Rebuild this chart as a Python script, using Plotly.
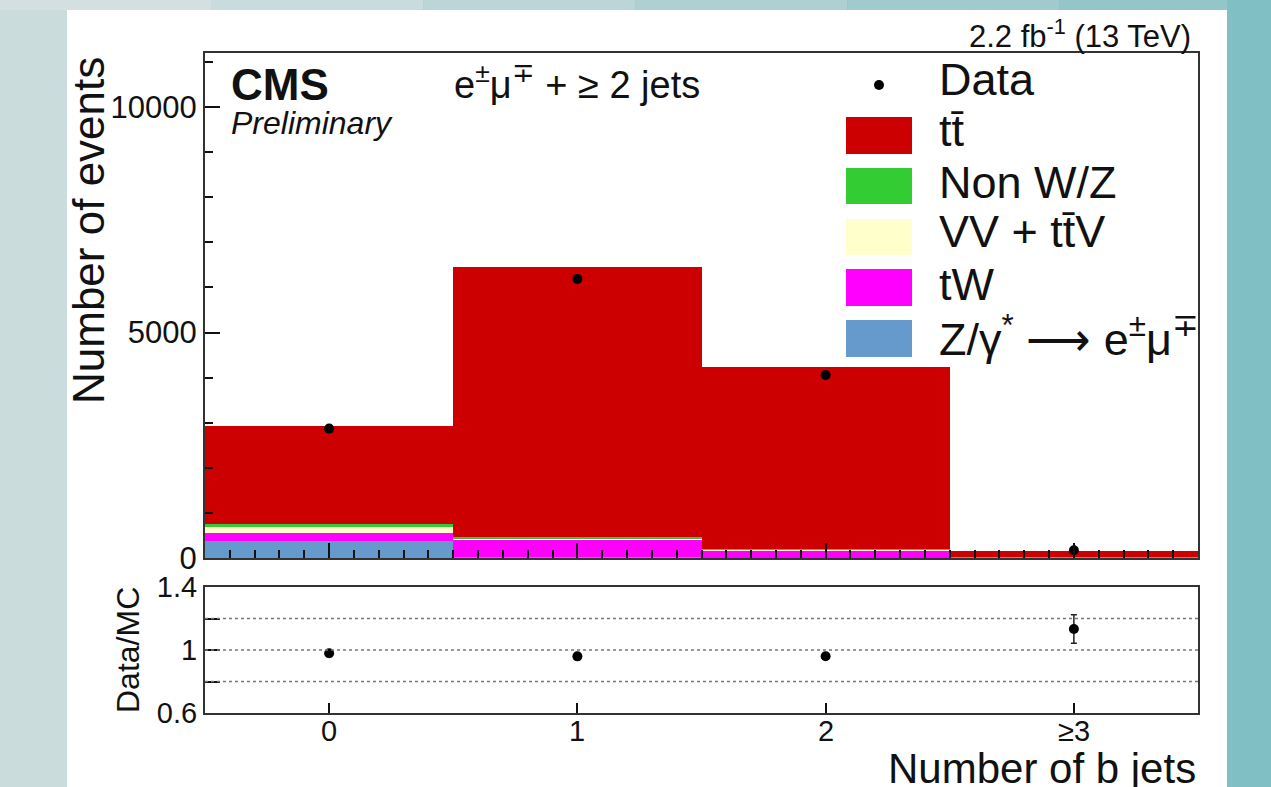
import plotly.graph_objects as go

# ---- event yields per b-jet multiplicity bin (stacked, bottom to top) ----
bins = [0, 1, 2, 3]
bin_labels = ["0", "1", "2", "≥3"]
z_dy = [380, 15, 5, 3]          # Z/gamma* -> e mu
tw = [180, 400, 160, 15]        # tW
vv_ttv = [130, 20, 15, 4]       # VV + ttV
non_wz = [55, 25, 10, 3]        # Non W/Z
ttbar = [2185, 5990, 4040, 125]  # ttbar
data = [2870, 6190, 4060, 170]
data_err = [54, 79, 64, 13]
ratio_err = [0.02, 0.016, 0.018, 0.09]

names = ["Z/γ<sup>*</sup> ⟶ e<sup>±</sup>μ<sup>∓</sup>", "tW", "VV + tt̄V", "Non W/Z", "tt̄"]
colors = ["#6699cc", "#ff00ff", "#ffffcc", "#33cc33", "#cc0000"]
stack = [z_dy, tw, vv_ttv, non_wz, ttbar]

mc_total = [sum(s[i] for s in stack) for i in range(len(bins))]
ratio = [d / m for d, m in zip(data, mc_total)]

W, H = 1271, 787
FONT = "Liberation Sans, Arial, Helvetica, sans-serif"


def px(x):
    return x / W


def py(y):
    return 1 - y / H


fig = go.Figure()

for vals, name, col in zip(stack, names, colors):
    fig.add_trace(go.Bar(
        x=bins, y=vals, name=name, width=1.0,
        marker=dict(color=col, line=dict(width=0)),
        xaxis="x", yaxis="y", showlegend=False,
    ))

fig.add_trace(go.Scatter(
    x=bins, y=data, mode="markers", name="Data",
    marker=dict(color="black", size=10),
    error_y=dict(type="data", array=data_err, color="black", thickness=1.5, width=0),
    xaxis="x", yaxis="y", showlegend=False,
))

fig.add_trace(go.Scatter(
    x=bins, y=ratio, mode="markers", name="Data/MC",
    marker=dict(color="black", size=10),
    error_y=dict(type="data", array=ratio_err, color="#222", thickness=1.5, width=3),
    xaxis="x2", yaxis="y2", showlegend=False,
))

xdom = [px(205), px(1198)]
axis_line = dict(showline=True, linecolor="#333", linewidth=2, mirror=True,
                 showgrid=False, zeroline=False, automargin=False)

fig.update_layout(
    width=W, height=H,
    margin=dict(l=0, r=0, t=0, b=0, autoexpand=False),
    paper_bgcolor="#8cc4c8",
    plot_bgcolor="white",
    barmode="stack", bargap=0,
    font=dict(family=FONT, color="#111"),
    xaxis=dict(
        domain=xdom, range=[-0.5, 3.5], anchor="y",
        tickvals=bins, showticklabels=False,
        ticks="inside", ticklen=15, tickwidth=1.5, tickcolor="#111",
        minor=dict(ticks="inside", ticklen=8, tickwidth=1.5, tickcolor="#111",
                   tick0=0, dtick=0.1),
        **axis_line,
    ),
    yaxis=dict(
        domain=[py(558), py(53)], range=[0, 11200], anchor="x",
        tickvals=[0, 5000, 10000], ticktext=["0", "5000", "10000"],
        ticks="inside", ticklen=15, tickwidth=1.5, tickcolor="#111",
        minor=dict(ticks="inside", ticklen=8, tickwidth=1.5, tickcolor="#111",
                   tick0=0, dtick=1000),
        tickfont=dict(size=31, color="#111"),
        **axis_line,
    ),
    xaxis2=dict(
        domain=xdom, range=[-0.5, 3.5], anchor="y2",
        tickvals=bins, showticklabels=False,
        ticks="inside", ticklen=10, tickwidth=1.5, tickcolor="#111",
        **axis_line,
    ),
    yaxis2=dict(
        domain=[py(713), py(587)], range=[0.6, 1.4], anchor="x2",
        tickvals=[0.6, 0.8, 1.0, 1.2, 1.4], ticktext=["0.6", "", "1", "", "1.4"],
        ticks="inside", ticklen=15, tickwidth=1.5, tickcolor="#111",
        tickfont=dict(size=29, color="#111"),
        **axis_line,
    ),
)

shapes = []
# page backdrop: textured border strips and the white sheet
shapes.append(dict(type="rect", xref="paper", yref="paper", x0=0, x1=px(67), y0=0, y1=1,
                   fillcolor="#cbdcdd", line=dict(width=0), layer="below"))
top_cols = ["#d3dfe0", "#c9dcdd", "#bcd6d8", "#aed0d3", "#a0cacd", "#93c5c9"]
for i, c in enumerate(top_cols):
    shapes.append(dict(type="rect", xref="paper", yref="paper",
                       x0=i / len(top_cols), x1=(i + 1) / len(top_cols), y0=py(10), y1=1,
                       fillcolor=c, line=dict(width=0), layer="below"))
shapes.append(dict(type="rect", xref="paper", yref="paper", x0=px(1227), x1=1, y0=0, y1=1,
                   fillcolor="#80bfc3", line=dict(width=0), layer="below"))
shapes.append(dict(type="rect", xref="paper", yref="paper", x0=px(67), x1=px(1227),
                   y0=0, y1=py(10), fillcolor="white", line=dict(width=0), layer="below"))

# dotted reference lines in the ratio panel
for yv in [0.8, 1.0, 1.2]:
    shapes.append(dict(type="line", xref="x2 domain", yref="y2", x0=0, x1=1, y0=yv, y1=yv,
                       line=dict(color="#777", width=1.5, dash="dot"), layer="above"))

# legend boxes
leg_rows = [(117, 154), (168, 204), (219, 255), (269, 306), (320, 357)]
leg_order = [4, 3, 2, 1, 0]
for (y0, y1), k in zip(leg_rows, leg_order):
    shapes.append(dict(type="rect", xref="paper", yref="paper",
                       x0=px(846), x1=px(912), y0=py(y1), y1=py(y0),
                       fillcolor=colors[k], line=dict(width=0), layer="above"))
shapes.append(dict(type="circle", xref="paper", yref="paper",
                   x0=px(874), x1=px(884), y0=py(90), y1=py(80),
                   fillcolor="black", line=dict(width=0), layer="above"))
fig.update_layout(shapes=shapes)

ann = []


def text(x, y, s, size, xanchor="left", **kw):
    ann.append(dict(x=px(x), y=py(y), xref="paper", yref="paper", text=s, showarrow=False,
                    xanchor=xanchor, yanchor="middle",
                    font=dict(family=FONT, size=size, color="#111"), **kw))


text(1193, 34, "2.2 fb<sup>-1</sup> (13 TeV)", 31, xanchor="right")
text(229, 85, "<b>CMS</b>", 44)
text(229, 123, "<i>Preliminary</i>", 32)
text(452, 82, "e<sup>±</sup>μ<sup>∓</sup> + ≥ 2 jets", 38)

leg_text_y = [80, 130, 182, 232, 284, 336]
leg_names = ["Data"] + [names[k] for k in leg_order]
for yy, nm in zip(leg_text_y, leg_names):
    text(937, yy, nm, 45)

text(88, 231, "Number of events", 44, xanchor="center", textangle=-90)
text(128, 650, "Data/MC", 32, xanchor="center", textangle=-90)
text(1198, 768, "Number of b jets", 42, xanchor="right")

# bin labels under the ratio panel
for b, lab in zip(bins, bin_labels):
    ann.append(dict(x=b, y=py(731), xref="x2", yref="paper", text=lab, showarrow=False,
                    xanchor="center", yanchor="middle",
                    font=dict(family=FONT, size=29, color="#111")))

fig.update_layout(annotations=ann)

fig.write_html("out.html")
